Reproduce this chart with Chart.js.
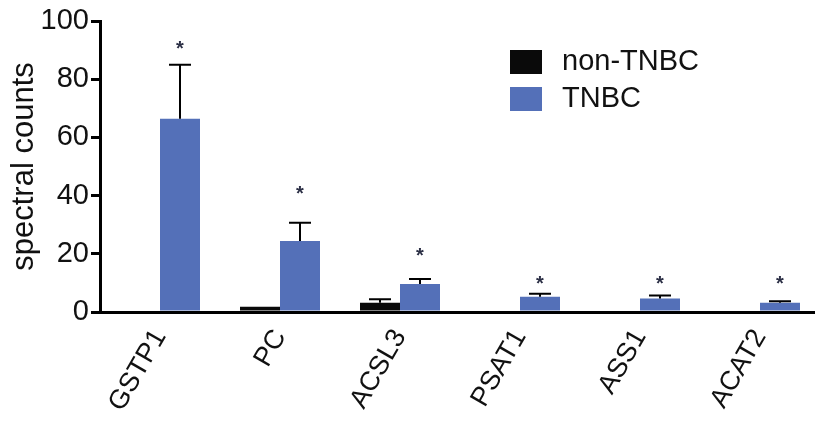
<!DOCTYPE html>
<html>
<head>
<meta charset="utf-8">
<script src="https://cdn.jsdelivr.net/npm/chart.js@4.4.0/dist/chart.umd.min.js"></script>
<style>
    html, body { margin: 0; padding: 0; background: #fff; overflow: hidden; }
    #wrap { width: 815px; height: 429px; overflow: hidden; }
    canvas { display: block; }
</style>
</head>
<body>
<div id="wrap"><canvas id="countsChart" width="820" height="429"></canvas></div>
<script>
    'use strict';

    // values
    var genes = ['GSTP1', 'PC', 'ACSL3', 'PSAT1', 'ASS1', 'ACAT2'];
    var nonTnbc = [0, 1.8, 3.2, 0, 0, 0];
    var nonTnbcErr = [0, 0, 1.2, 0, 0, 0];
    var tnbc = [66.4, 24.4, 9.6, 5.2, 4.6, 3.2];
    var tnbcErr = [18.6, 6.3, 1.7, 1.1, 1.1, 0.5];
    var starAt = [91.7, 41.6, 20.4, 10.7, 10.7, 10.7];
    var yTicks = [0, 20, 40, 60, 80, 100];

    var FONT = '"Liberation Sans", Arial, sans-serif';

    var errorBars = {
        id: 'errorBars',
        afterDatasetsDraw: function (chart) {
            var ctx = chart.ctx;
            var y = chart.scales.y;
            var errs = [nonTnbcErr, tnbcErr];
            ctx.save();
            ctx.strokeStyle = '#000';
            ctx.lineWidth = 2;
            chart.data.datasets.forEach(function (ds, di) {
                var meta = chart.getDatasetMeta(di);
                meta.data.forEach(function (bar, i) {
                    var e = errs[di][i];
                    if (!e) return;
                    var top = y.getPixelForValue(ds.data[i] + e);
                    var base = y.getPixelForValue(ds.data[i]);
                    ctx.beginPath();
                    ctx.moveTo(bar.x, base);
                    ctx.lineTo(bar.x, top);
                    ctx.moveTo(bar.x - 11, top);
                    ctx.lineTo(bar.x + 11, top);
                    ctx.stroke();
                });
            });
            // significance stars over the TNBC bars
            var meta = chart.getDatasetMeta(1);
            ctx.fillStyle = '#2b2f45';
            ctx.font = 'bold 20px ' + FONT;
            ctx.textAlign = 'center';
            ctx.textBaseline = 'middle';
            meta.data.forEach(function (bar, i) {
                ctx.fillText('*', bar.x, y.getPixelForValue(starAt[i]) + 4);
            });
            ctx.restore();
        }
    };

    var boxLegend = {
        id: 'boxLegend',
        afterDraw: function (chart) {
            var ctx = chart.ctx;
            ctx.save();
            ctx.font = '29px ' + FONT;
            ctx.textBaseline = 'middle';
            ctx.textAlign = 'left';
            chart.data.datasets.forEach(function (ds, i) {
                var top = 50 + i * 37;
                ctx.fillStyle = ds.backgroundColor;
                ctx.fillRect(510, top, 32, 24);
                ctx.fillStyle = '#111';
                ctx.fillText(ds.label, 562, top + 12);
            });
            ctx.restore();
        }
    };

    var chart = new Chart(document.getElementById('countsChart'), {
        type: 'bar',
        data: {
            labels: genes,
            datasets: [
                { label: 'non-TNBC', data: nonTnbc, backgroundColor: '#0a0a0a' },
                { label: 'TNBC', data: tnbc, backgroundColor: '#5470b8' }
            ]
        },
        plugins: [errorBars, boxLegend],
        options: {
            responsive: false,
            animation: false,
            layout: { padding: { top: 21, left: 0, right: 0, bottom: 0 } },
            datasets: {
                bar: { categoryPercentage: 2 / 3, barPercentage: 1, borderWidth: 0 }
            },
            plugins: {
                legend: { display: false },
                tooltip: { enabled: false }
            },
            scales: {
                x: {
                    grid: { display: false },
                    border: { display: true, color: '#000', width: 3 },
                    ticks: {
                        color: '#111',
                        font: { family: FONT, size: 27 },
                        minRotation: 60,
                        maxRotation: 60,
                        padding: 4
                    },
                    afterFit: function (scale) { scale.height = 117; }
                },
                y: {
                    min: 0,
                    max: 100,
                    afterBuildTicks: function (scale) {
                        scale.ticks = yTicks.map(function (v) { return { value: v }; });
                    },
                    grid: { drawOnChartArea: false, drawTicks: true, tickLength: 9, lineWidth: 3, color: '#000' },
                    border: { display: true, color: '#000', width: 3 },
                    ticks: {
                        color: '#111',
                        font: { family: FONT, size: 29 },
                        padding: 2
                    },
                    title: {
                        display: true,
                        text: 'spectral counts',
                        color: '#111',
                        font: { family: FONT, size: 31 },
                        padding: { top: 6, bottom: 0 }
                    },
                    afterFit: function (scale) { scale.width = 100; }
                }
            }
        }
    });
</script>
</body>
</html>
